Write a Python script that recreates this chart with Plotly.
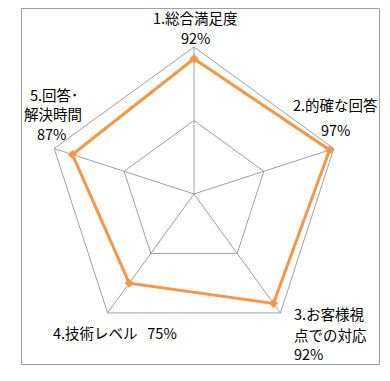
import plotly.graph_objects as go

# ---- data ----
categories = ["1.総合満足度", "2.的確な回答", "3.お客様視点での対応", "4.技術レベル", "5.回答･解決時間"]
values = [0.92, 0.97, 0.92, 0.75, 0.87]
# display text of each category label (line-broken as in the chart)
label_lines = [["1.総合満足度"], ["2.的確な回答"], ["3.お客様視", "点での対応"], ["4.技術レベル"], ["5.回答･", "解決時間"]]
radial_ticks = [0.5, 1.0]

# page body has an 8px default margin: figure sits at (8, 8)
OFF = 8
W, H = 390 - OFF, 381 - OFF
ORANGE = "#F79646"
GRID = "#A0A0A0"
FONT = "Noto Sans CJK JP"

def px(x, y):
    """page pixel -> paper coords"""
    return (x - OFF) / W, 1 - (y - OFF) / H

cx, cy, R = 194, 194, 147
dx0, dy0 = px(cx - R, cy + R)
dx1, dy1 = px(cx + R, cy - R)

fig = go.Figure()
fig.add_trace(go.Scatterpolar(
    r=values + values[:1],
    theta=categories + categories[:1],
    mode="lines+markers",
    line=dict(color=ORANGE, width=3),
    marker=dict(color=ORANGE, size=7, symbol="diamond"),
    showlegend=False,
    hoverinfo="skip",
))

pct = [f"{v*100:.0f}%" for v in values]

# label layout: (text, x, y, anchor) in page pixels
ann_specs = [
    [(label_lines[0][0], 195, 17, "center"), (pct[0], 195, 37, "center")],
    [(label_lines[1][0], 335, 105, "center"), (pct[1], 335, 129, "center")],
    [(label_lines[2][0], 292, 313, "left"), (label_lines[2][1], 292, 334, "left"), (pct[2], 292, 353, "left")],
    [(label_lines[3][0] + "\u00a0\u00a0\u00a0" + pct[3], 51, 332, "left")],
    [(label_lines[4][0], 54, 95, "center"), (label_lines[4][1], 53, 114, "center"), (pct[4], 51, 133, "center")],
]
annotations = []
for spec in ann_specs:
    for text, x, y, anchor in spec:
        ax, ay = px(x, y)
        annotations.append(dict(
            text=text, x=ax, y=ay, xref="paper", yref="paper",
            xanchor=anchor, yanchor="middle", showarrow=False,
            font=dict(family=FONT, size=14.5, color="#000000"),
        ))

bx0, by0 = px(21.5, 364.5)
bx1, by1 = px(379.5, 8.5)

fig.update_layout(
    width=W, height=H,
    margin=dict(l=0, r=0, t=0, b=0),
    paper_bgcolor="white",
    polar=dict(
        domain=dict(x=[dx0, dx1], y=[dy0, dy1]),
        bgcolor="white",
        gridshape="linear",
        angularaxis=dict(
            rotation=90, direction="clockwise",
            showticklabels=False, ticks="",
            showline=True, linecolor=GRID, linewidth=1,
            showgrid=True, gridcolor=GRID, gridwidth=1,
        ),
        radialaxis=dict(
            range=[0, 1], tickvals=radial_ticks,
            showticklabels=False, ticks="", showline=False,
            showgrid=True, gridcolor=GRID, gridwidth=1,
        ),
    ),
    annotations=annotations,
    shapes=[dict(type="rect", xref="paper", yref="paper",
                 x0=bx0, y0=by0, x1=bx1, y1=by1,
                 line=dict(color=GRID, width=1), fillcolor="rgba(0,0,0,0)")],
)

fig.write_html("out.html", config={"displayModeBar": False})
